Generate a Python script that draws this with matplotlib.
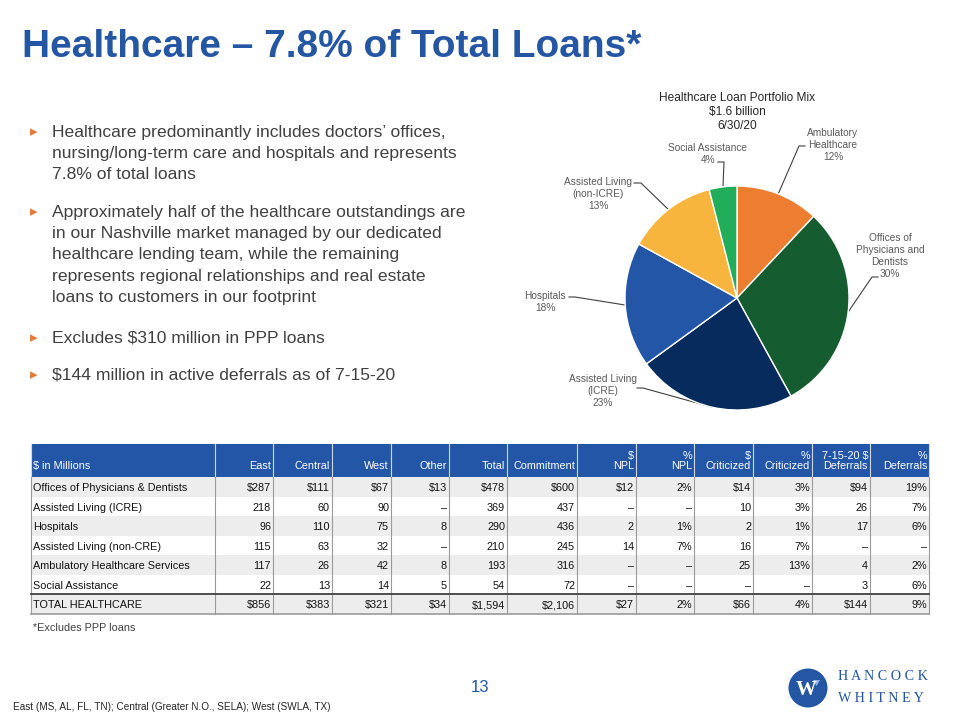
import matplotlib
matplotlib.use("Agg")
import matplotlib.pyplot as plt
import numpy as np
from matplotlib.patches import Rectangle, Circle, Polygon

# --- data ---
pie_labels = ["Ambulatory\nHealthcare", "Offices of\nPhysicians and\nDentists",
              "Assisted Living\n(ICRE)", "Hospitals", "Assisted Living\n(non-ICRE)",
              "Social Assistance"]
pie_shares = [12, 30, 23, 18, 13, 4]
pie_colors = ["#ED7D31", "#155D30", "#072B5C", "#2356A6", "#F8B53D", "#22AD5A"]

bullets = [
    ["Healthcare predominantly includes doctors\u2019 offices,",
     "nursing/long-term care and hospitals and represents",
     "7.8% of total loans"],
    ["Approximately half of the healthcare outstandings are",
     "in our Nashville market managed by our dedicated",
     "healthcare lending team, while the remaining",
     "represents regional relationships and real estate",
     "loans to customers in our footprint"],
    ["Excludes $310 million in PPP loans"],
    ["$144 million in active deferrals as of 7-15-20"],
]

headers = ["$ in Millions", "East", "Central", "West", "Other", "Total", "Commitment",
           "$\nNPL", "%\nNPL", "$\nCriticized", "%\nCriticized",
           "7-15-20 $\nDeferrals", "%\nDeferrals"]
categories = ["Offices of Physicians & Dentists", "Assisted Living (ICRE)", "Hospitals",
              "Assisted Living (non-CRE)", "Ambulatory Healthcare Services",
              "Social Assistance"]
east = [287, 218, 96, 115, 117, 22]
central = [111, 60, 110, 63, 26, 13]
west = [67, 90, 75, 32, 42, 14]
other = [13, None, 8, None, 8, 5]
total = [478, 369, 290, 210, 193, 54]
commitment = [600, 437, 436, 245, 316, 72]
npl = [12, None, 2, 14, None, None]
npl_pct = [2, None, 1, 7, None, None]
criticized = [14, 10, 2, 16, 25, None]
criticized_pct = [3, 3, 1, 7, 13, None]
deferrals = [94, 26, 17, None, 4, 3]
deferrals_pct = [19, 7, 6, None, 2, 6]
total_label = "TOTAL HEALTHCARE"
total_row = [856, 383, 321, 34, 1594, 2106, 27, 2, 66, 4, 144, 9]

BLUE = "#2456A4"
TXT = "#404040"
plt.rcParams["font.family"] = ["Liberation Sans", "DejaVu Sans"]

fig = plt.figure(figsize=(9.6, 7.2), dpi=100)
ax = fig.add_axes([0, 0, 1, 1])
ax.set_xlim(0, 960)
ax.set_ylim(720, 0)
ax.axis("off")

# title
ax.text(22, 47, "Healthcare \u2013 7.8% of Total Loans*", fontsize=28, fontweight="bold",
        color=BLUE, va="center", ha="left")

# bullets
first_y = [132, 212, 338, 375]
for lines, y0 in zip(bullets, first_y):
    ax.text(34, y0, "\u25B8", fontsize=11, color="#E07B39", va="center", ha="center",
            family=["DejaVu Sans"])
    for i, ln in enumerate(lines):
        ax.text(52, y0 + i * 21.4, ln, fontsize=12.6, color=TXT, va="center", ha="left")

# --- pie ---
cx, cy, R = 737, 298, 112
ax_pie = fig.add_axes([(cx - R) / 960, (720 - cy - R) / 720, 2 * R / 960, 2 * R / 720])
wedges, _ = ax_pie.pie(pie_shares, colors=pie_colors, startangle=90, counterclock=False,
                       radius=1, wedgeprops=dict(edgecolor="white", linewidth=1))
ax_pie.set_xlim(-1, 1)
ax_pie.set_ylim(-1, 1)
ax_pie.set_aspect("equal")
ax_pie.axis("off")

ax.text(737, 112, "Healthcare Loan Portfolio Mix\n$1.6 billion\n6/30/20", fontsize=8.6,
        color="#262626", ha="center", va="center", linespacing=1.2)

# label placement: text center x, first line y, leader start, leader knee
label_pos = [
    (833, 134, (805, 146), (799, 146)),
    (890, 239, (878, 277), (872, 277)),
    (603, 380, (637, 388), (643, 388)),
    (545, 297, (569, 297), (575, 297)),
    (598, 183, (634, 183), (641, 183)),
    (708, 149, (718, 162), (724, 162)),
]
for w, lab, share, (tx, ty, p0, p1) in zip(wedges, pie_labels, pie_shares, label_pos):
    ang = np.deg2rad((w.theta1 + w.theta2) / 2)
    px, py = cx + R * np.cos(ang), cy - R * np.sin(ang)
    ax.plot([p0[0], p1[0], px], [p0[1], p1[1], py], color="#404040", lw=0.8)
    ax.text(tx, ty - 6, f"{lab}\n{share}%", fontsize=7.3, color="#595959", ha="center",
            va="top", linespacing=1.25)

# --- table ---
col_x = [31, 215, 273, 332, 391, 449, 507, 577, 636, 694, 753, 812, 870, 929]
head_top, head_bot = 444, 477
row_h = 19.5
pct_cols = {8, 10, 12}


def fmt(v, col, dollar):
    if v is None:
        return "\u2013"
    if col in pct_cols:
        return f"{v}%"
    return ("$" if dollar else "") + f"{v:,}"


ax.add_patch(Rectangle((col_x[0], head_top), col_x[-1] - col_x[0], head_bot - head_top,
                       color="#2356A6", lw=0))
for j, h in enumerate(headers):
    if j == 0:
        ax.text(col_x[0] + 2, 469, h, fontsize=7.8, color="white", ha="left", va="baseline")
    else:
        ax.text(col_x[j + 1] - 2, 469, h, fontsize=7.8, color="white", ha="right",
                va="baseline", linespacing=1.05)

series = [east, central, west, other, total, commitment, npl, npl_pct,
          criticized, criticized_pct, deferrals, deferrals_pct]
rows = []
for i, cat in enumerate(categories):
    rows.append([cat] + [s[i] for s in series])
rows.append([total_label] + total_row)

for i, row in enumerate(rows):
    top = head_bot + i * row_h
    if i % 2 == 0:
        ax.add_patch(Rectangle((col_x[0], top), col_x[-1] - col_x[0], row_h,
                               color="#EDEDED", lw=0))
    yb = top + row_h / 2 + 4.5
    dollar = i == 0 or i == len(rows) - 1
    ax.text(col_x[0] + 2, yb, row[0], fontsize=7.8, color="#111111", ha="left", va="baseline")
    for j, v in enumerate(row[1:], start=1):
        ax.text(col_x[j + 1] - 2, yb, fmt(v, j, dollar), fontsize=7.8, color="#111111",
                ha="right", va="baseline")

bottom = head_bot + len(rows) * row_h
for j, x in enumerate(col_x):
    ax.plot([x, x], [head_top, head_bot], color="#D0D8E8", lw=0.8)
    ax.plot([x, x], [head_bot, bottom], color="#9A9A9A", lw=0.8)
ax.plot([col_x[0], col_x[-1]], [bottom - row_h] * 2, color="#404040", lw=1.3)
ax.plot([col_x[0], col_x[-1]], [bottom, bottom], color="#9A9A9A", lw=1.2)

# footnotes
ax.text(33, 628, "*Excludes PPP loans", fontsize=7.8, color=TXT, va="center", ha="left")
ax.text(480, 688, "13", fontsize=12, color=BLUE, va="center", ha="center")
ax.text(13, 707, "East (MS, AL, FL, TN); Central (Greater N.O., SELA); West (SWLA, TX)",
        fontsize=7.2, color="#262626", va="center", ha="left")

# logo
ax.add_patch(Circle((808, 688), 19.5, color=BLUE, lw=0))
ax.text(806, 690, "W", fontsize=15, color="white", fontweight="bold", ha="center",
        va="center", family=["Liberation Serif"])
ax.add_patch(Polygon([[813, 680], [820, 680], [816.5, 686]], color="#8FB3E6", lw=0))
ax.text(838, 677, "H A N C O C K", fontsize=10.2, color=BLUE, ha="left", va="center",
        family=["Liberation Serif"])
ax.text(838, 699, "W H I T N E Y", fontsize=10.2, color=BLUE, ha="left", va="center",
        family=["Liberation Serif"])

fig.savefig("out.png", dpi=100, facecolor="white")
